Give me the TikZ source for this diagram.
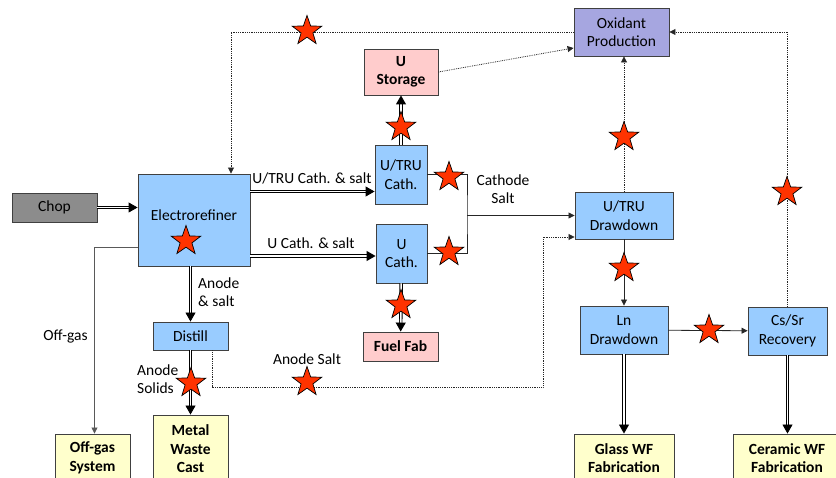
\documentclass[tikz,border=0pt]{standalone}
\usepackage{fontspec}
\setmainfont{Carlito}
\usetikzlibrary{positioning, arrows.meta, shapes.geometric}
\definecolor{procblue}{RGB}{153,204,255}
\definecolor{chopgray}{RGB}{140,140,140}
\definecolor{oxpurple}{RGB}{166,166,224}
\definecolor{storepink}{RGB}{255,204,204}
\definecolor{wasteyellow}{RGB}{255,255,204}
\definecolor{hazardred}{RGB}{255,51,0}
\definecolor{edgegray}{RGB}{64,64,64}

\begin{document}
\begin{tikzpicture}[x=1pt,y=-1pt,
            font=\fontsize{15.5}{18.5}\selectfont,
            box/.style={draw=edgegray,line width=0.9pt,inner sep=0pt,
                        align=center,fill=procblue},
            endbox/.style={box,font=\fontsize{15.5}{18.5}\selectfont\bfseries},
            lbl/.style={inner sep=0pt,align=center},
            hazard/.style={star,star points=5,star point ratio=2.5,
                           minimum size=31pt,inner sep=0pt,
                           fill=hazardred,draw=black,line width=0.7pt},
            line/.style={line width=0.8pt,draw=black!85},
            arrow/.style={line,-{Triangle[length=6pt,width=6pt]}},
            feed/.style={arrow,densely dotted},
            dbl/.style={double=white,double distance=1.6pt,line width=0.9pt,
                        -{Triangle[length=9pt,width=10pt]}}]
        \useasboundingbox (0,0) rectangle (836,478);
        % process boxes
        \node[box,fill=chopgray,minimum width=85pt,minimum height=29pt]
            (chop) at (54.5,207.5) {Chop};
        \node[box,minimum width=112pt,minimum height=92pt,text depth=10pt]
            (er) at (194,220) {Electrorefiner};
        \node[box,minimum width=52pt,minimum height=59pt]
            (utc) at (401,174.5) {U/TRU\\Cath.};
        \node[box,minimum width=51pt,minimum height=59pt]
            (uc) at (401.5,253.5) {U\\Cath.};
        \node[box,minimum width=75pt,minimum height=28pt]
            (dist) at (190.5,336) {Distill};
        \node[box,fill=oxpurple,minimum width=95pt,minimum height=48pt]
            (ox) at (621.5,32) {Oxidant\\Production};
        \node[box,minimum width=98pt,minimum height=47pt]
            (utd) at (624,215.5) {U/TRU\\Drawdown};
        \node[box,minimum width=88pt,minimum height=48pt]
            (lnd) at (624,330) {Ln\\Drawdown};
        \node[box,minimum width=79pt,minimum height=48pt]
            (cs) at (787.5,331) {Cs/Sr\\Recovery};
        % products
        \node[endbox,fill=storepink,minimum width=74pt,minimum height=46pt]
            (ust) at (401,72) {U\\Storage};
        \node[endbox,fill=storepink,minimum width=75pt,minimum height=29pt]
            (ff) at (400.5,346.5) {Fuel Fab};
        \node[endbox,fill=wasteyellow,minimum width=75pt,minimum height=48pt]
            (og) at (92.5,458) {Off-gas\\System};
        \node[endbox,fill=wasteyellow,minimum width=75pt,minimum height=68pt]
            (mwc) at (190.5,449) {Metal\\Waste\\Cast};
        \node[endbox,fill=wasteyellow,minimum width=100pt,minimum height=48pt]
            (gwf) at (624,458) {Glass WF\\Fabrication};
        \node[endbox,fill=wasteyellow,minimum width=108pt,minimum height=48pt]
            (cwf) at (787,458) {Ceramic WF\\Fabrication};
        % stream labels
        \node[lbl] (lutc) at (312,178) {U/TRU Cath. \& salt};
        \node[lbl] (luc) at (311,243) {U Cath. \& salt};
        \node[lbl,anchor=west,align=left] (lanode) at (198,292) {Anode\\\& salt};
        \node[lbl,anchor=west,align=left] (lsolid) at (137,379) {Anode\\Solids};
        \node[lbl] (lasalt) at (307,359) {Anode Salt};
        \node[lbl] (lcsalt) at (503,189) {Cathode\\Salt};
        \node[lbl] (loff) at (65.5,336) {Off-gas};
        % main streams
        \coordinate (utin) at ([yshift=-17pt]utc.west);
        \coordinate (uin) at ([yshift=-2.5pt]uc.west);
        \draw[dbl] (chop) -- (chop -| er.west);
        \draw[dbl] (utin -| er.east) -- (utin);
        \draw[dbl] (uin -| er.east) -- (uin);
        \draw[dbl] (dist.north |- er.south) -- (dist.north);
        \draw[dbl] (dist) -- (mwc);
        \draw[dbl] (utc) -- (ust);
        \draw[dbl] (uc) -- (ff);
        \draw[dbl] (lnd) -- (gwf);
        \draw[dbl] (cs.south) -- (cs.south |- cwf.north);
        % salt streams
        \coordinate (cjoin) at (467,215.5);
        \draw[line] (utc.east) -| (cjoin) |- (uc.east);
        \draw[arrow] (cjoin) -- (utd.west);
        \draw[arrow] (utd) -- (lnd);
        \draw[arrow] (lnd) -- (cs);
        \draw[arrow,draw=black!65] ([yshift=-27pt]er.west) -| ([xshift=2pt]og.north);
        % oxidant loop
        \coordinate (asalt) at (543,387);
        \draw[feed] ([xshift=21.5pt]dist.south) |- (asalt) |- ([yshift=-21.5pt]utd.west);
        \draw[feed] (ox.west) -| ([xshift=37pt]er.north);
        \draw[feed] (ust.east) -- ([yshift=-16pt]ox.west);
        \draw[feed] (utd.north) -- (utd.north |- ox.south);
        \draw[feed] (cs.north) |- (ox.east);
        % hazard markers
        \foreach \sx/\sy [count=\i] in {307/31, 401/127, 449/177, 449/252,
                401/305, 186/241, 191/383, 307/382, 624/137, 787/192,
                624/268, 709/330}
            \node[hazard] (hz\i) at (\sx,\sy) {};
\end{tikzpicture}
\end{document}
